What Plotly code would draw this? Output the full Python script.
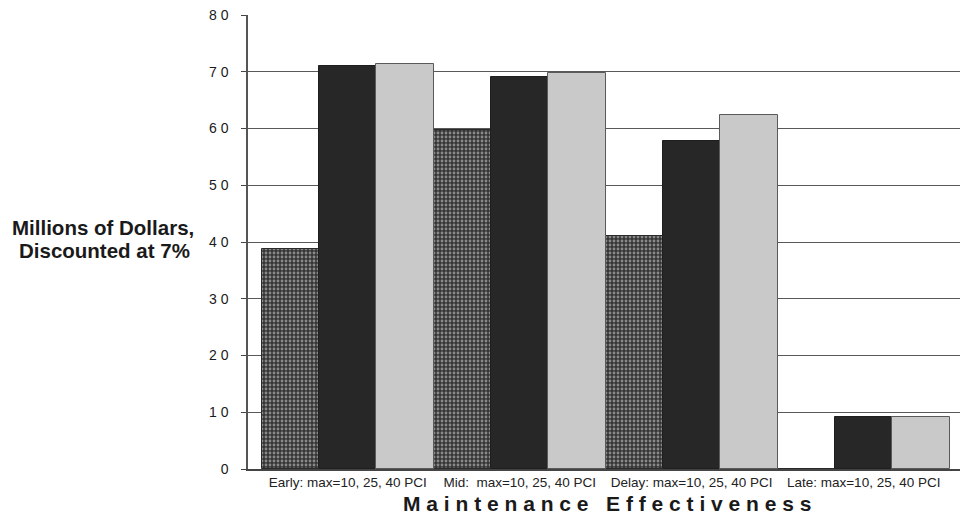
import plotly.graph_objects as go

# Maintenance timing scenarios (one group of three bars each)
categories = [
    "Early: max=10, 25, 40 PCI",
    "Mid:\u00a0\u00a0max=10, 25, 40 PCI",
    "Delay: max=10, 25, 40 PCI",
    "Late: max=10, 25, 40 PCI",
]
# Present value of benefits, millions of dollars discounted at 7%
pci_10 = [38.8, 59.7, 41.1, 0.0]
pci_25 = [71.1, 69.0, 57.8, 9.1]
pci_40 = [71.4, 69.8, 62.3, 9.2]

y_ticks = [0, 10, 20, 30, 40, 50, 60, 70, 80]
y_tick_text = ["0", "1 0", "2 0", "3 0", "4 0", "5 0", "6 0", "7 0", "8 0"]

FONT = "Liberation Sans, Arial, Helvetica, sans-serif"
x_pos = list(range(len(categories)))

fig = go.Figure()
fig.add_bar(
    x=x_pos, y=pci_10, name="max=10 PCI",
    marker=dict(
        color="#3a3a3a",
        line=dict(color="#2a2a2a", width=1),
        pattern=dict(shape=".", size=4, solidity=0.4,
                     fgcolor="#dedede", bgcolor="#353535"),
    ),
)
fig.add_bar(
    x=x_pos, y=pci_25, name="max=25 PCI",
    marker=dict(color="#272727", line=dict(color="#1e1e1e", width=1)),
)
fig.add_bar(
    x=x_pos, y=pci_40, name="max=40 PCI",
    marker=dict(color="#c9c9c9", line=dict(color="#5a5a5a", width=1)),
)

fig.update_layout(
    width=960, height=527,
    margin=dict(l=248, r=0, t=15, b=58),
    paper_bgcolor="white", plot_bgcolor="white",
    barmode="group", bargap=0, bargroupgap=0,
    showlegend=False,
    font=dict(family=FONT, color="#222222"),
    xaxis=dict(
        range=[-0.58, 3.56],
        tickvals=x_pos, ticktext=categories,
        tickfont=dict(size=13.5, color="#222222"),
        showgrid=False, zeroline=False,
        showline=True, linecolor="#444444", linewidth=1.5,
        ticks="", fixedrange=True,
    ),
    yaxis=dict(
        range=[0, 80],
        tickvals=y_ticks, ticktext=y_tick_text,
        tickfont=dict(size=14, color="#1a1a1a"),
        showgrid=True, gridcolor="#595959", gridwidth=1.2,
        zeroline=False,
        showline=True, linecolor="#555555", linewidth=1.5,
        ticks="outside", ticklen=5, tickcolor="#444444",
        ticklabelstandoff=10,
        fixedrange=True,
    ),
    annotations=[
        dict(
            text="<b>Millions of Dollars,</b>",
            xref="paper", yref="paper", x=-0.2037, y=0.531,
            xanchor="center", yanchor="middle", showarrow=False,
            font=dict(size=20.5, color="#1a1a1a", family=FONT),
        ),
        dict(
            text="<b>Discounted at 7%</b>",
            xref="paper", yref="paper", x=-0.2017, y=0.482,
            xanchor="center", yanchor="middle", showarrow=False,
            font=dict(size=20.5, color="#1a1a1a", family=FONT),
        ),
        dict(
            text="<b>M a i n t e n a n c e\u00a0\u00a0\u00a0E f f e c t i v e n e s s</b>",
            xref="paper", yref="paper", x=0.5045, y=-0.075,
            xanchor="center", yanchor="middle", showarrow=False,
            font=dict(size=21, color="#1a1a1a", family=FONT),
        ),
    ],
)

fig.write_html("out.html")
